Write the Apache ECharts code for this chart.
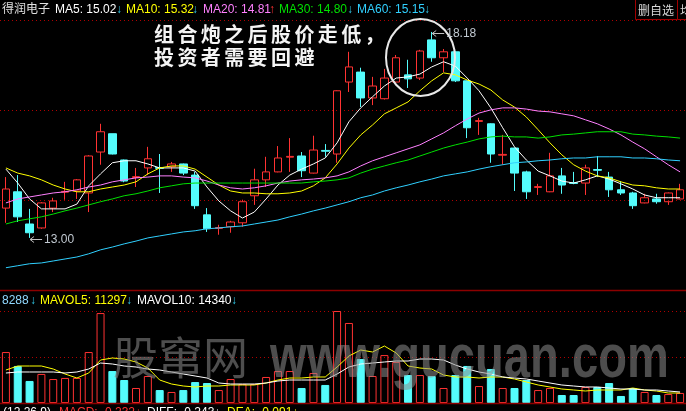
<!DOCTYPE html>
<html><head><meta charset="utf-8">
<script src="https://cdn.jsdelivr.net/npm/echarts@6/dist/echarts.min.js"></script>
<style>html,body{margin:0;padding:0;background:#000;overflow:hidden}#c{width:686px;height:411px;}</style>
</head><body><div id="c"></div>
<script>
const days = [1,2,3,4,5,6,7,8,9,10,11,12,13,14,15,16,17,18,19,20,21,22,23,24,25,26,27,28,29,30,31,32,33,34,35,36,37,38,39,40,41,42,43,44,45,46,47,48,49,50,51,52,53,54,55,56,57,58];
const openP  = [13.75,14.16,13.35,13.25,13.75,14.15,14.18,14.13,15.16,15.62,14.96,14.52,14.76,14.77,14.79,14.86,14.58,13.58,13.24,13.28,13.38,14.06,14.46,14.66,15.03,15.06,14.63,15.20,15.11,16.92,17.17,16.52,16.50,16.92,17.10,17.02,17.98,17.53,17.68,16.95,15.93,15.87,15.08,15.26,14.66,14.27,14.16,14.56,14.39,14.38,14.72,14.53,14.21,14.13,13.88,13.98,13.91,13.98];
const closeP = [14.23,13.53,13.13,13.88,13.93,14.17,14.46,15.06,15.67,15.11,14.43,14.54,14.99,14.75,14.86,14.63,13.81,13.23,13.26,13.40,13.91,14.46,14.66,15.01,15.05,14.69,15.21,15.18,16.70,17.30,16.52,16.82,17.02,17.53,17.00,17.70,17.53,17.68,16.95,15.77,15.95,15.11,15.10,14.63,14.16,14.29,14.56,14.33,14.37,14.76,14.70,14.21,14.13,13.81,14.01,13.91,14.13,14.21];
const lowP   = [13.38,13.40,13.00,13.23,13.65,13.96,13.98,13.65,14.84,15.10,14.40,14.28,14.58,14.13,14.66,14.58,13.73,13.15,13.08,13.13,13.28,13.83,14.28,14.65,14.66,14.53,14.62,15.04,14.89,16.67,16.29,16.34,16.48,16.91,16.77,16.97,17.43,17.17,16.92,15.51,15.59,14.89,14.84,14.18,13.98,14.08,14.15,14.11,14.35,14.08,14.53,14.03,14.08,13.73,13.87,13.86,13.83,13.97];
const highP  = [14.53,14.58,13.73,13.90,14.01,14.41,14.48,15.08,15.87,15.62,14.97,14.76,15.29,15.11,14.91,14.87,14.66,13.75,13.33,13.43,13.96,14.74,15.04,15.31,15.51,15.16,15.57,15.36,16.71,17.68,17.28,17.05,17.25,17.60,17.48,17.73,18.18,17.75,17.69,16.96,16.02,15.88,15.59,15.27,14.69,14.36,15.14,14.76,14.66,14.84,15.06,14.66,14.43,14.16,14.11,14.11,14.14,14.36];
const ma5  = [14.73,14.38,13.98,13.73,13.73,13.73,13.85,14.31,14.61,14.89,14.94,14.94,14.86,14.76,14.76,14.76,14.68,14.28,13.93,13.68,13.50,13.65,13.98,14.33,14.58,14.73,14.86,15.01,15.39,15.92,16.27,16.55,16.82,17.02,17.05,17.12,17.30,17.43,17.32,17.02,16.70,16.27,15.77,15.29,14.96,14.68,14.56,14.43,14.38,14.46,14.56,14.48,14.36,14.23,14.08,14.01,14.01,14.01];
const ma10 = [14.76,14.63,14.56,14.46,14.33,14.23,14.16,14.16,14.23,14.28,14.33,14.41,14.61,14.76,14.81,14.81,14.73,14.53,14.33,14.18,14.13,14.13,14.11,14.11,14.13,14.18,14.31,14.51,14.86,15.26,15.59,15.84,16.12,16.27,16.42,16.70,16.95,17.15,17.10,16.97,16.87,16.72,16.47,16.29,16.04,15.72,15.39,15.09,14.84,14.68,14.56,14.51,14.41,14.33,14.31,14.26,14.23,14.23];
const ma20 = [13.88,13.98,14.03,14.08,14.13,14.16,14.21,14.28,14.33,14.41,14.46,14.51,14.53,14.56,14.56,14.53,14.51,14.43,14.33,14.26,14.23,14.26,14.31,14.38,14.43,14.46,14.48,14.51,14.56,14.66,14.81,14.94,15.04,15.14,15.24,15.34,15.49,15.64,15.82,15.99,16.14,16.22,16.27,16.27,16.24,16.19,16.17,16.12,16.07,15.97,15.87,15.74,15.59,15.41,15.24,15.04,14.84,14.66];
const ma30 = [13.35,13.43,13.48,13.53,13.60,13.68,13.75,13.83,13.91,13.98,14.06,14.11,14.18,14.26,14.31,14.36,14.38,14.38,14.38,14.38,14.38,14.38,14.38,14.38,14.38,14.38,14.41,14.43,14.46,14.51,14.63,14.73,14.81,14.89,14.96,15.06,15.16,15.26,15.34,15.41,15.49,15.54,15.56,15.54,15.54,15.51,15.54,15.59,15.61,15.64,15.67,15.67,15.67,15.61,15.59,15.56,15.54,15.51];
const ma60 = [12.25,12.30,12.35,12.37,12.42,12.47,12.52,12.60,12.70,12.77,12.85,12.92,13.00,13.05,13.10,13.15,13.18,13.23,13.25,13.28,13.30,13.35,13.40,13.45,13.53,13.60,13.68,13.75,13.83,13.91,14.01,14.08,14.18,14.26,14.33,14.41,14.48,14.56,14.61,14.66,14.73,14.79,14.84,14.89,14.91,14.94,14.96,14.99,15.01,15.01,15.04,15.04,15.04,15.01,15.01,14.99,14.96,14.94];
const volume  = [42100,30600,18200,24000,19800,20700,20700,42100,74300,26400,19000,12400,22300,10700,9100,10700,17300,16500,10700,19800,15700,15700,21500,26400,26400,12400,24800,14900,76000,66100,36300,22300,39600,33900,23100,23100,22300,12400,23100,30600,14000,28100,12400,12400,19000,10700,12400,6600,6600,13200,13200,16500,5800,12400,9100,6600,7400,8288];
const mavol5  = [27260,30560,30560,30560,28080,23950,20650,24780,35520,37170,36340,33870,28910,19000,15690,14040,13220,14040,14040,14870,14870,14870,16520,19000,20650,20650,21480,21480,29740,38820,43780,42130,47080,41300,30560,28910,28080,23130,21480,21480,20650,21480,21480,19820,17350,14870,13220,11560,10740,9910,10740,10740,10740,12390,10740,9910,8260,8260];
const mavol10 = [24780,25610,25610,25610,25610,24780,25610,28080,33040,32210,30560,29740,28080,27260,25610,23950,22300,20650,16520,15690,15690,15690,16520,18170,19000,19000,19000,19000,23950,29740,32210,33040,33870,34690,34690,36340,36340,35520,31390,28080,25610,23950,21480,20650,19820,18170,16520,14870,14040,13220,13220,12390,11560,11560,10740,10740,9910,9090];

const headerItems = [
  ['得润电子', '#e0e0e0'], ['MA5: 15.02', '#ffffff'], ['↓', '#30c8e8'],
  ['MA10: 15.32', '#ffff00'], ['↓', '#30c8e8'], ['MA20: 14.81', '#ff80ff'], ['↑', '#ff3030'],
  ['MA30: 14.80', '#00e000'], ['↓', '#30c8e8'], ['MA60: 15.15', '#30d0ff'], ['↓', '#30c8e8']
];
const volItems = [['8288', '#90d8ff'], ['↓', '#30c8e8'], ['MAVOL5: 11297', '#ffff00'], ['↓', '#30c8e8'], ['MAVOL10: 14340', '#ffffff'], ['↓', '#30c8e8']];
const macdItems = [['(12,26,9)', '#ffffff'], ['MACD: -0.232↓', '#ff3232'], ['DIFF: -0.243↓', '#ffffff'], ['DEA: -0.091↓', '#ffff00']];
const noteLine1 = '组合炮之后股价走低，';
const noteLine2 = '投资者需要回避';

const UP = '#ff3232', DOWN = '#54fcfc';
const kdata = days.map((d, i) => [openP[i], closeP[i], lowP[i], highP[i]]);
const volData = volume.map((v, i) => {
  const up = closeP[i] >= openP[i];
  return { value: v, itemStyle: up ? { color: 'rgba(0,0,0,0)', borderColor: UP, borderWidth: 1 } : { color: DOWN, borderColor: DOWN, borderWidth: 1 } };
});

const headerX = [2, 55, 116, 126, 192, 203, 269, 279, 347, 357, 424];
const volX = [2, 30, 40, 126, 137, 231];
const macdX = [3, 59, 147, 227];

const graphics = [];
headerItems.forEach((it, k) => graphics.push({ type: 'text', x: headerX[k], y: 10, z: 50, style: { text: it[0], fill: it[1], font: '12px "Liberation Sans", Arial, "Noto Sans CJK SC"', textVerticalAlign: 'middle' } }));
volItems.forEach((it, k) => graphics.push({ type: 'text', x: volX[k], y: 301, z: 50, style: { text: it[0], fill: it[1], font: '12px "Liberation Sans", Arial', textVerticalAlign: 'middle' } }));
macdItems.forEach((it, k) => graphics.push({ type: 'text', x: macdX[k], y: 407, z: 50, style: { text: it[0], fill: it[1], font: '12px "Liberation Sans", Arial', textVerticalAlign: 'top' } }));
// separators
graphics.push({ type: 'line', z: 40, shape: { x1: 0, y1: 290.5, x2: 686, y2: 290.5 }, style: { stroke: '#8c0000', lineWidth: 1.5 } });
graphics.push({ type: 'line', z: 40, shape: { x1: 0, y1: 403.5, x2: 686, y2: 403.5 }, style: { stroke: '#8c0000', lineWidth: 1.5 } });
// button boxes
graphics.push({ type: 'rect', z: 50, shape: { x: 635.5, y: -1, width: 42, height: 20.5 }, style: { fill: '#000', stroke: '#a00000', lineWidth: 1 } });
graphics.push({ type: 'text', x: 638, y: 10, z: 51, style: { text: '删自选', fill: '#d8d8d8', font: '12px "Noto Sans CJK SC"', textVerticalAlign: 'middle' } });
graphics.push({ type: 'rect', z: 50, shape: { x: 677.5, y: -1, width: 20, height: 20.5 }, style: { fill: '#000', stroke: '#a00000', lineWidth: 1 } });
graphics.push({ type: 'text', x: 680, y: 10, z: 51, style: { text: '均', fill: '#d8d8d8', font: '12px "Noto Sans CJK SC"', textVerticalAlign: 'middle' } });
// annotation text
[noteLine1, noteLine2].forEach((line, r) => {
  Array.from(line).forEach((ch, k) => graphics.push({ type: 'text', x: 154 + k * 23.4, y: r === 0 ? 34 : 57, z: 60,
    style: { text: ch, fill: '#f4f4f4', font: 'bold 20px "Noto Sans CJK SC"', textVerticalAlign: 'middle' } }));
});
graphics.push({ type: 'ellipse', z: 60, shape: { cx: 420.5, cy: 57.5, rx: 34.5, ry: 38.5 }, style: { fill: 'none', stroke: '#e8e8e8', lineWidth: 2 } });
// watermark
graphics.push({ type: 'text', x: 113, y: 358, z: 70, style: { text: '股窜网', fill: 'rgba(130,130,130,0.6)', font: '45px "Noto Sans CJK SC"', textVerticalAlign: 'middle' } });
graphics.push({ type: 'text', x: 270, y: 360, z: 70, scaleX: 0.76, style: { text: 'www.gucuan.com', fill: 'rgba(140,140,140,0.55)', font: 'bold 62px "Liberation Sans", Arial', textVerticalAlign: 'middle' } });

const splitStyle = { show: true, lineStyle: { color: '#b00000', type: [1, 3], width: 1 } };
const hiddenAxisParts = { axisLine: { show: false }, axisTick: { show: false }, axisLabel: { show: false } };

const lineSeries = (data, color, xi, yi) => ({ type: 'line', data, xAxisIndex: xi, yAxisIndex: yi, symbol: 'none', z: 5,
  lineStyle: { color, width: 1 }, itemStyle: { color }, animation: false, silent: true });

const chart = echarts.init(document.getElementById('c'), null, { renderer: 'canvas' });
chart.setOption({
  backgroundColor: '#000',
  animation: false,
  grid: [
    { left: -4.5, right: -5.5, top: 20, height: 270 },
    { left: -4.5, right: -5.5, top: 311, height: 92 }
  ],
  xAxis: [
    { type: 'category', gridIndex: 0, data: days, boundaryGap: true, show: false },
    { type: 'category', gridIndex: 1, data: days, boundaryGap: true, show: false }
  ],
  yAxis: [
    { type: 'value', gridIndex: 0, min: 11.69, max: 18.48, show: false, scale: true },
    { type: 'value', gridIndex: 1, min: 0, max: 76000, show: false },
    Object.assign({ type: 'value', gridIndex: 0, min: 0, max: 3, interval: 1, splitLine: splitStyle }, hiddenAxisParts),
    Object.assign({ type: 'value', gridIndex: 1, min: 0, max: 2, interval: 1, splitLine: splitStyle }, hiddenAxisParts)
  ],
  series: [
    { type: 'candlestick', xAxisIndex: 0, yAxisIndex: 0, data: kdata, barWidth: 8, z: 3,
      itemStyle: { color: 'rgba(0,0,0,0)', color0: DOWN, borderColor: UP, borderColor0: DOWN, borderWidth: 1 } },
    lineSeries(ma5, '#ffffff', 0, 0),
    lineSeries(ma10, '#ffff00', 0, 0),
    lineSeries(ma20, '#ff80ff', 0, 0),
    lineSeries(ma30, '#00e000', 0, 0),
    lineSeries(ma60, '#30d0ff', 0, 0),
    { type: 'bar', xAxisIndex: 1, yAxisIndex: 1, data: volData, barWidth: 8, z: 3 },
    lineSeries(mavol5, '#ffff00', 1, 1),
    lineSeries(mavol10, '#ffffff', 1, 1)
  ],
  graphic: graphics
});

// extreme labels placed through the chart scales
let iMin = 0, iMax = 0;
lowP.forEach((v, i) => { if (v < lowP[iMin]) iMin = i; });
highP.forEach((v, i) => { if (v > highP[iMax]) iMax = i; });
const pMin = chart.convertToPixel({ xAxisIndex: 0, yAxisIndex: 0 }, [iMin, lowP[iMin]]);
const pMax = chart.convertToPixel({ xAxisIndex: 0, yAxisIndex: 0 }, [iMax, highP[iMax]]);
const extra = [];
[[pMin, lowP[iMin], 1.5], [pMax, highP[iMax], 1]].forEach(([p, v, dy]) => {
  const x = p[0] + 0.5, y = Math.round(p[1] + dy) + 0.5;
  extra.push({ type: 'line', z: 60, shape: { x1: x, y1: y, x2: x + 12, y2: y }, style: { stroke: '#c0c0c0', lineWidth: 1 } });
  extra.push({ type: 'polyline', z: 60, shape: { points: [[x + 4, y - 3], [x, y], [x + 4, y + 3]] }, style: { stroke: '#c0c0c0', lineWidth: 1, fill: 'none' } });
  extra.push({ type: 'text', z: 60, x: x + 14, y: y, style: { text: v.toFixed(2), fill: '#c0c8d0', font: '12px "Liberation Sans", Arial', textVerticalAlign: 'middle' } });
});
chart.setOption({ graphic: graphics.concat(extra) });
</script>
</body></html>
